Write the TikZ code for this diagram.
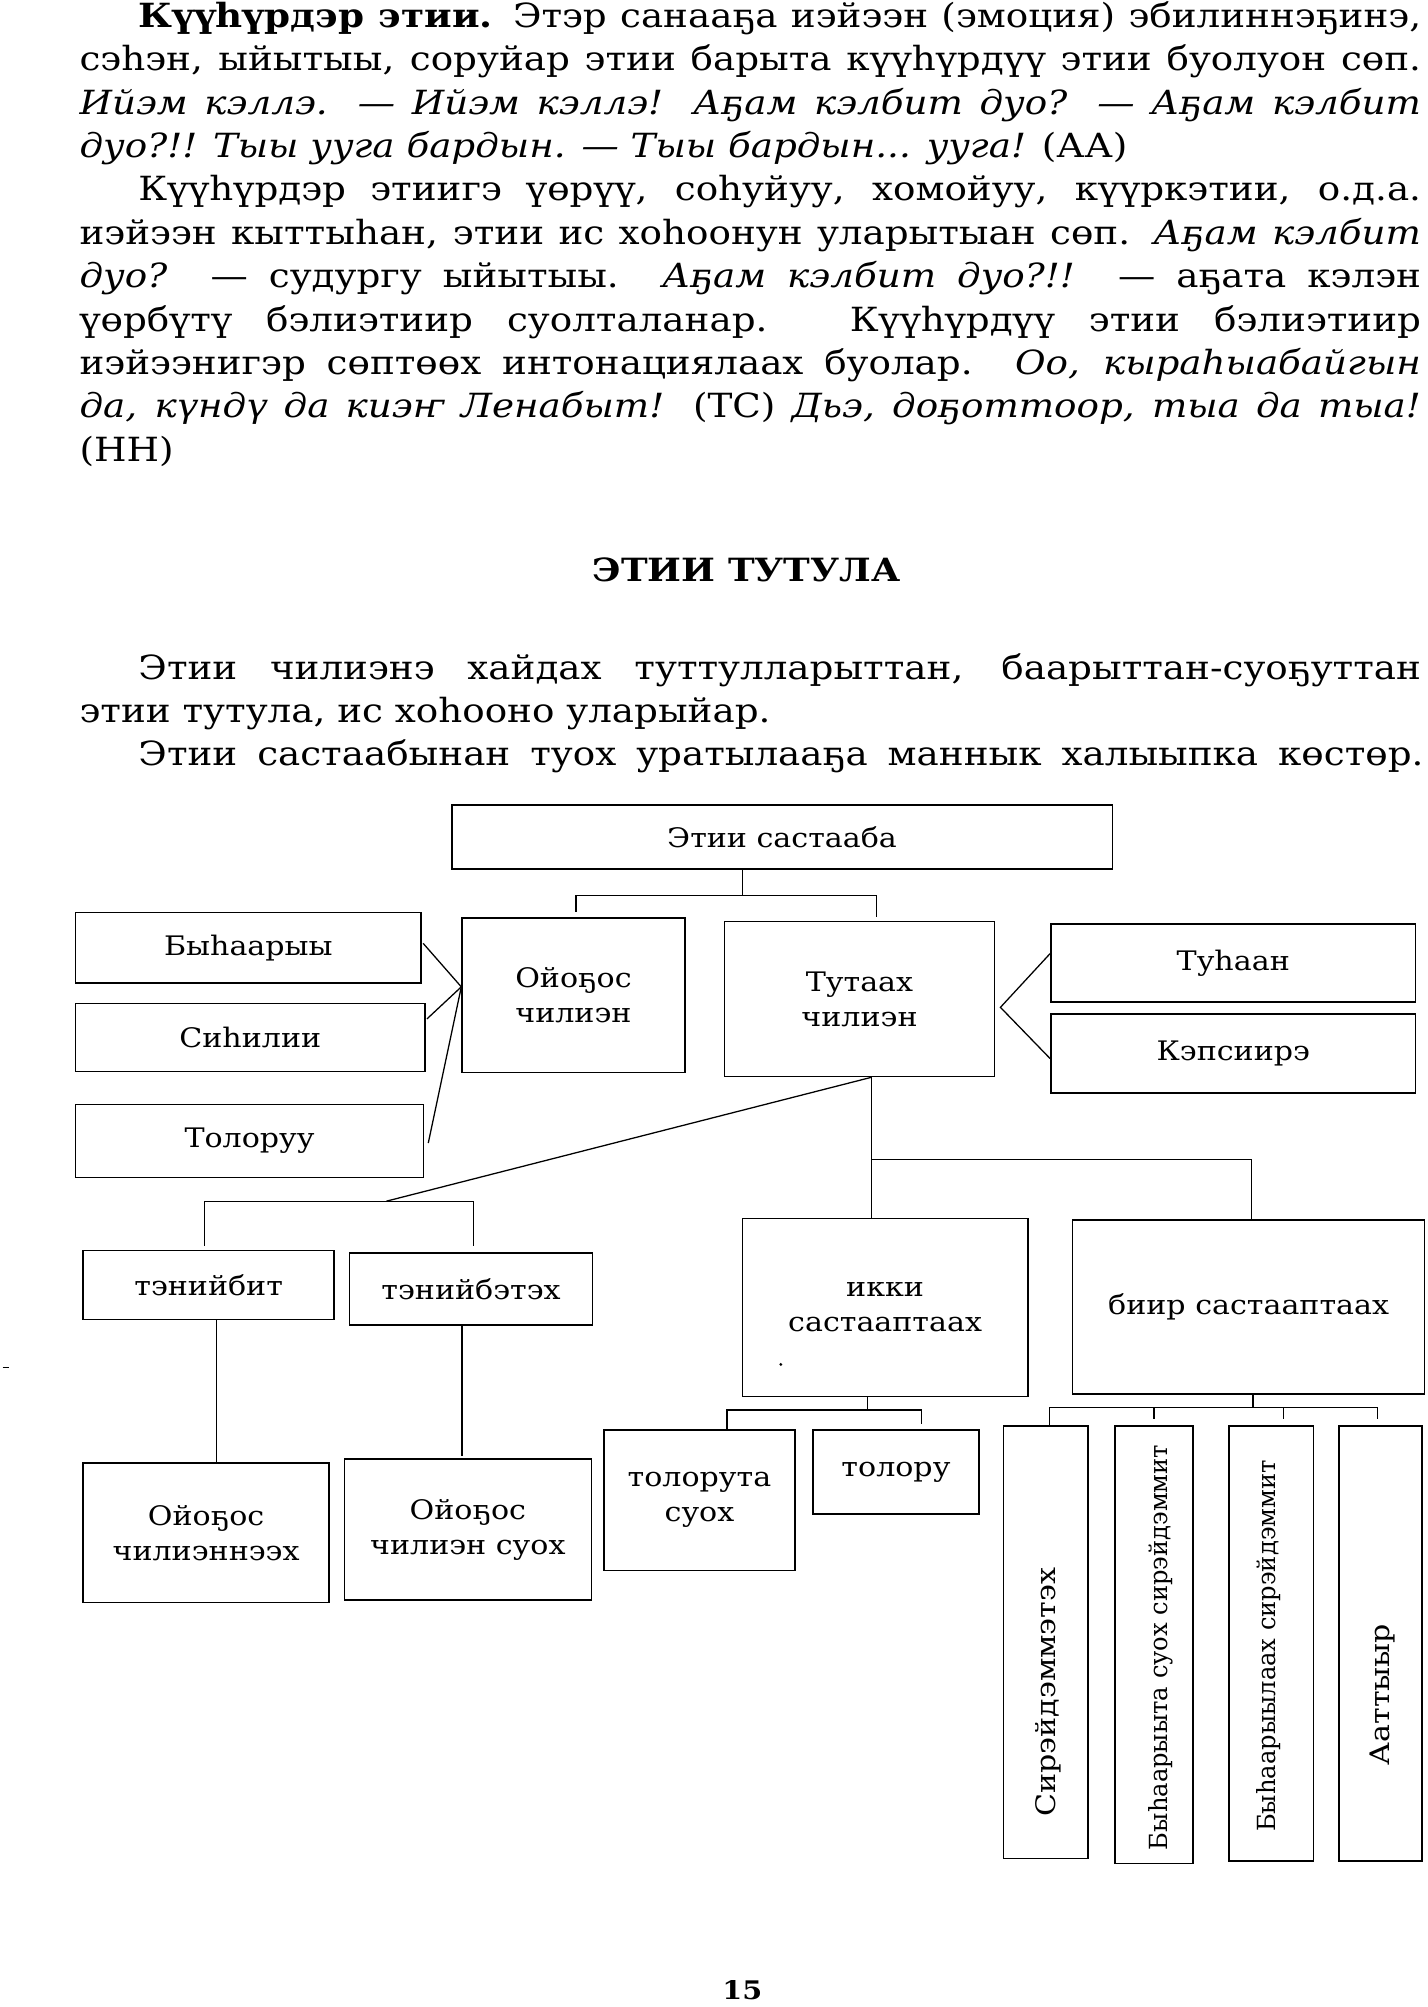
\documentclass[tikz,border=0pt]{standalone}
\usepackage{fontspec}
\setmainfont{DejaVu Serif}[FakeStretch=1.12]
\newfontfamily\condf{DejaVu Serif}[FakeStretch=0.97]
\usetikzlibrary{calc}
\newcommand{\bodyf}{\fontsize{26}{34}\selectfont}
\newcommand{\diagf}{\fontsize{21}{27.5}\selectfont}
\newcommand{\diagsf}{\condf\fontsize{19.5}{22}\selectfont}
\begin{document}
\begin{tikzpicture}[x=1pt,y=-1pt,
  box/.style={draw,line width=1.2pt,inner sep=0pt,align=center,font=\diagf},
  conn/.style={line width=1pt},
  tl/.style={anchor=base west,inner sep=0pt,font=\bodyf},
  vt/.style={rotate=90,inner sep=0pt,font=\diagf}]
\useasboundingbox (0,0) rectangle (1115,1568);
\fill[white] (0,0) rectangle (1115,1568);
% ---------- text ----------
\node[tl] (l1) at (108,21.4) {\makebox[1002pt][s]{\textbf{Күүһүрдэр этии.} Этэр санааҕа иэйээн (эмоция) эбилиннэҕинэ,}};
\node[tl] (l2) at (62,55.3) {\makebox[1048pt][s]{сэһэн, ыйытыы, соруйар этии барыта күүһүрдүү этии буолуон сөп.}};
\node[tl] (l3) at (62,89.2) {\makebox[1048pt][s]{\itshape Ийэм кэллэ. — Ийэм кэллэ! Аҕам кэлбит дуо? — Аҕам кэлбит}};
\node[tl] (l4) at (62,123.1) {\textit{дуо?!! Тыы ууга бардын. — Тыы бардын... ууга!} (АА)};
\node[tl] (l5) at (108,157) {\makebox[1002pt][s]{Күүһүрдэр этиигэ үөрүү, соһуйуу, хомойуу, күүркэтии, о.д.а.}};
\node[tl] (l6) at (62,190.9) {\makebox[1048pt][s]{иэйээн кыттыһан, этии ис хоһоонун уларытыан сөп. \textit{Аҕам кэлбит}}};
\node[tl] (l7) at (62,224.8) {\makebox[1048pt][s]{\textit{дуо?} — судургу ыйытыы. \textit{Аҕам кэлбит дуо?!!} — аҕата кэлэн}};
\node[tl] (l8) at (62,258.7) {\makebox[1048pt][s]{үөрбүтү бэлиэтиир суолталанар. Күүһүрдүү этии бэлиэтиир}};
\node[tl] (l9) at (62,292.6) {\makebox[1048pt][s]{иэйээнигэр сөптөөх интонациялаах буолар. \textit{Оо, кыраһыабайгын}}};
\node[tl] (l10) at (62,326.5) {\makebox[1048pt][s]{\textit{да, күндү да киэҥ Ленабыт!} (ТС) \textit{Дьэ, доҕоттоор, тыа да тыа!}}};
\node[tl] (l11) at (62,360.4) {(НН)};
\node[anchor=base,inner sep=0pt,font=\fontsize{25}{30}\selectfont\bfseries] (head) at (583.3,454.5) {ЭТИИ ТУТУЛА};
\node[tl] (p1) at (108,531) {\makebox[1002pt][s]{Этии чилиэнэ хайдах туттулларыттан, баарыттан-суоҕуттан}};
\node[tl] (p2) at (62,564.5) {этии тутула, ис хоһооно уларыйар.};
\node[tl] (p3) at (108,598) {\makebox[1004pt][s]{Этии састаабынан туох уратылааҕа маннык халыыпка көстөр.}};
% ---------- boxes ----------
\node[box,minimum width=516pt,minimum height=50pt] (top) at (611,654) {Этии састааба};
\node[box,minimum width=270pt,minimum height=55pt] (byh) at (194,740.5) {Быһаарыы};
\node[box,minimum width=273pt,minimum height=53pt] (sih) at (195.5,810.5) {Сиһилии};
\node[box,minimum width=272pt,minimum height=57pt] (tol) at (195,891.5) {Толоруу};
\node[box,minimum width=174pt,minimum height=121pt] (oyo) at (448,777.5) {Ойоҕос\\чилиэн};
\node[box,minimum width=211pt,minimum height=121pt] (tut) at (671.5,780.5) {Тутаах\\чилиэн};
\node[box,minimum width=285pt,minimum height=61pt] (tuh) at (963.5,752.5) {Туһаан};
\node[box,minimum width=285pt,minimum height=62pt] (kep) at (963.5,823) {Кэпсиирэ};
\node[box,minimum width=196pt,minimum height=54pt] (ten1) at (163,1004) {тэнийбит};
\node[box,minimum width=190pt,minimum height=56pt] (ten2) at (368,1007) {тэнийбэтэх};
\node[box,minimum width=223pt,minimum height=139pt] (ikki) at (691.5,1021.5) {икки\\састааптаах};
\node[box,minimum width=275pt,minimum height=136pt] (biir) at (975.5,1021) {биир састааптаах};
\node[box,minimum width=192pt,minimum height=109pt] (oyo1) at (161,1197.5) {Ойоҕос\\чилиэннээх};
\node[box,minimum width=193pt,minimum height=110pt] (oyo2) at (365.5,1195) {Ойоҕос\\чилиэн суох};
\node[box,minimum width=149pt,minimum height=110pt] (tolsuox) at (546.5,1172) {толорута\\суох};
\node[box,minimum width=130pt,minimum height=66pt] (tolor) at (700,1150) {толору};
\node[box,minimum width=66pt,minimum height=338pt] (v1) at (817,1283) {};
\node[box,minimum width=61pt,minimum height=342pt] (v2) at (901.5,1285) {};
\node[box,minimum width=66pt,minimum height=340pt] (v3) at (993,1284) {};
\node[box,minimum width=65pt,minimum height=340pt] (v4) at (1078.5,1284) {};
\node[vt] (v1t) at ($(v1)+(2,39)$) {Сирэйдэммэтэх};
\node[vt,font=\diagsf] (v2t) at ($(v2)+(5,2)$) {Быһаарыыта суох сирэйдэммит};
\node[vt,font=\diagsf] (v3t) at ($(v3)+(-2,2)$) {Быһаарыылаах сирэйдэммит};
\node[vt] (v4t) at ($(v4)+(1.5,40)$) {Ааттыыр};
% ---------- connectors ----------
\coordinate (topb) at ($(top.south)+(-31,0)$);
\coordinate (topj) at ($(topb)+(0,20)$);
\draw[conn] (topb) -- (topj);
\draw[conn] ($(oyo.north)+(2,-4)$) |- (topj) -| ($(tut.north)+(13.5,-3)$);
\coordinate (oyoL) at ($(oyo.west)+(0,-6.5)$);
\draw[conn] ($(byh.east)+(1,-3.5)$) -- (oyoL);
\draw[conn] ($(sih.east)+(1,-14.5)$) -- (oyoL);
\draw[conn] ($(tol.east)+(3,1.5)$) -- (oyoL);
\coordinate (tutR) at ($(tut.east)+(4,6.5)$);
\draw[conn] ($(tuh.west)+(0,-7.5)$) -- (tutR) -- ($(kep.west)+(0,4)$);
\coordinate (tb) at ($(tut.south)+(9.5,0)$);
\coordinate (tj) at ($(tb)+(0,64)$);
\draw[conn] (tb) -- (tj) -- (tj |- ikki.north);
\draw[conn] (tj) -| ($(biir.north)+(2.5,0)$);
\coordinate (tenJ) at ($(ten1.north)+(139,-38)$);
\draw[conn] (tb) -- (tenJ);
\draw[conn] ($(ten1.north)+(-3,-3)$) |- (tenJ) -| ($(ten2.north)+(2,-5)$);
\draw[conn] ($(ten1.south)+(6,0)$) -- ($(oyo1.north)+(8,0)$);
\draw[conn] ($(ten2.south)+(-7,0)$) -- ($(oyo2.north)+(-4.5,-2)$);
\coordinate (ij) at ($(ikki.south)+(-13.5,10)$);
\draw[conn] ($(ikki.south)+(-13.5,0)$) -- (ij);
\draw[conn] ($(tolsuox.north)+(21.5,0)$) |- (ij) -| ($(tolor.north)+(20,-4)$);
\coordinate (bj) at ($(biir.south)+(3.5,10)$);
\draw[conn] ($(biir.south)+(3.5,0)$) -- (bj);
\draw[conn] ($(v1.north)+(3,0)$) |- (bj) -| ($(v4.north)+(-2.5,-5)$);
\draw[conn] (bj -| v2.north) -- ($(v2.north)+(0,-5)$);
\draw[conn] ($(bj -| v3.north)+(10,0)$) -- ($(v3.north)+(10,-5)$);
\fill (610,1066) circle (1.2);
\draw[line width=0.8pt] (2,1068) -- (7,1068);
\node[font=\fontsize{20}{24}\selectfont\bfseries,inner sep=0pt] (pg) at (580,1555) {15};
\end{tikzpicture}
\end{document}
